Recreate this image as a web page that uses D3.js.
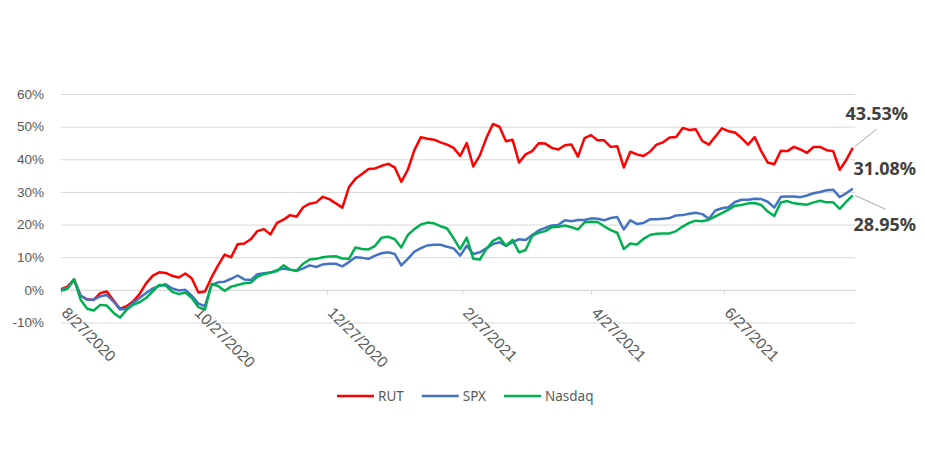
<!DOCTYPE html>
<html>
<head>
<meta charset="utf-8">
<script src="https://cdnjs.cloudflare.com/ajax/libs/d3/7.8.5/d3.min.js"></script>
<style>
    body { margin: 0; background: #fff; }
    svg { display: block; font-family: "Noto Sans", sans-serif; }
    .grid line { stroke: #d9d9d9; stroke-width: 1; }
    .grid .domain { display: none; }
    .axis-label { fill: #595959; font-size: 13.5px; }
    .x-axis text.axis-label { font-size: 15.5px; }
    .x-axis .domain, .x-axis line { stroke: #d9d9d9; }
    .series { fill: none; stroke-width: 2.5; stroke-linejoin: round; }
    .end-label { fill: #404040; font-size: 18px; font-weight: bold; }
    .leader { stroke: #a6a6a6; stroke-width: 1; }
</style>
</head>
<body>
<div id="chart"></div>
<script>
// trading dates sampled every three days
var dates = [
    "2020-08-27", "2020-08-30", "2020-09-02", "2020-09-05", "2020-09-08", "2020-09-11",
    "2020-09-14", "2020-09-17", "2020-09-20", "2020-09-23", "2020-09-26", "2020-09-29",
    "2020-10-02", "2020-10-05", "2020-10-08", "2020-10-11", "2020-10-14", "2020-10-17",
    "2020-10-20", "2020-10-23", "2020-10-26", "2020-10-29", "2020-11-01", "2020-11-04",
    "2020-11-07", "2020-11-10", "2020-11-13", "2020-11-16", "2020-11-19", "2020-11-22",
    "2020-11-25", "2020-11-28", "2020-12-01", "2020-12-04", "2020-12-07", "2020-12-10",
    "2020-12-13", "2020-12-16", "2020-12-19", "2020-12-22", "2020-12-25", "2020-12-28",
    "2020-12-31", "2021-01-03", "2021-01-06", "2021-01-09", "2021-01-12", "2021-01-15",
    "2021-01-18", "2021-01-21", "2021-01-24", "2021-01-27", "2021-01-30", "2021-02-02",
    "2021-02-05", "2021-02-08", "2021-02-11", "2021-02-14", "2021-02-17", "2021-02-20",
    "2021-02-23", "2021-02-26", "2021-03-01", "2021-03-04", "2021-03-07", "2021-03-10",
    "2021-03-13", "2021-03-16", "2021-03-19", "2021-03-22", "2021-03-25", "2021-03-28",
    "2021-03-31", "2021-04-03", "2021-04-06", "2021-04-09", "2021-04-12", "2021-04-15",
    "2021-04-18", "2021-04-21", "2021-04-24", "2021-04-27", "2021-04-30", "2021-05-03",
    "2021-05-06", "2021-05-09", "2021-05-12", "2021-05-15", "2021-05-18", "2021-05-21",
    "2021-05-24", "2021-05-27", "2021-05-30", "2021-06-02", "2021-06-05", "2021-06-08",
    "2021-06-11", "2021-06-14", "2021-06-17", "2021-06-20", "2021-06-23", "2021-06-26",
    "2021-06-29", "2021-07-02", "2021-07-05", "2021-07-08", "2021-07-11", "2021-07-14",
    "2021-07-17", "2021-07-20", "2021-07-23", "2021-07-26", "2021-07-29", "2021-08-01",
    "2021-08-04", "2021-08-07", "2021-08-10", "2021-08-13", "2021-08-16", "2021-08-19",
    "2021-08-22", "2021-08-25"
];

// cumulative return, percent
var rutValues = [
    0.2, 1.0, 3.2, -1.8, -2.9, -3.1, -1.0, -0.5, -3.2, -5.8, -5.0, -3.6,
    -1.3, 2.0, 4.3, 5.4, 5.2, 4.3, 3.8, 5.0, 3.5, -0.8, -0.5, 3.8,
    7.5, 10.8, 10.0, 14.0, 14.2, 15.5, 18.0, 18.6, 17.0, 20.5, 21.5, 22.9,
    22.4, 25.3, 26.4, 26.8, 28.5, 27.8, 26.5, 25.2, 31.5, 34.0, 35.5, 37.0,
    37.2, 38.0, 38.6, 37.5, 33.1, 36.8, 42.8, 46.8, 46.3, 46.0, 45.2, 44.5,
    43.5, 41.0, 45.0, 37.8, 41.2, 46.5, 50.8, 50.0, 45.5, 46.0, 39.0, 41.5,
    42.5, 44.9, 44.8, 43.5, 43.0, 44.3, 44.5, 40.8, 46.5, 47.4, 45.8, 45.8,
    43.8, 44.0, 37.5, 42.3, 41.5, 41.0, 42.3, 44.5, 45.2, 46.7, 46.8, 49.6,
    49.0, 49.2, 45.6, 44.5, 47.0, 49.5, 48.6, 48.2, 46.5, 44.5, 46.8, 42.5,
    39.0, 38.5, 42.6, 42.5, 43.8, 43.0, 42.0, 43.8, 43.8, 42.8, 42.5, 36.8,
    39.8, 43.53
];

var spxValues = [
    0.0, 0.6, 3.0, -1.8, -3.0, -3.0, -2.0, -1.6, -3.5, -6.0, -5.8, -4.0,
    -2.5, -1.0, 0.4, 1.2, 1.7, 0.4, -0.2, 0.0, -1.8, -4.2, -5.0, 1.5,
    2.3, 2.5, 3.4, 4.4, 3.2, 3.0, 4.8, 5.1, 5.3, 6.0, 6.5, 6.2,
    5.8, 6.6, 7.5, 7.0, 7.8, 8.0, 8.0, 7.2, 8.5, 10.0, 9.8, 9.5,
    10.5, 11.2, 11.5, 11.0, 7.5, 9.5, 11.7, 12.8, 13.6, 13.8, 13.8, 13.2,
    12.7, 10.5, 13.5, 11.0, 11.5, 12.7, 14.0, 14.6, 13.5, 14.6, 15.5, 15.3,
    16.8, 18.2, 19.0, 19.7, 19.9, 21.3, 21.0, 21.4, 21.4, 21.9, 21.8, 21.3,
    22.0, 22.3, 18.5, 21.3, 20.2, 20.5, 21.6, 21.6, 21.8, 22.0, 22.8, 22.9,
    23.3, 23.6, 23.2, 21.8, 24.3, 25.0, 25.3, 26.9, 27.6, 27.6, 27.9, 27.8,
    27.0, 25.2, 28.5, 28.6, 28.6, 28.4, 28.9, 29.6, 30.0, 30.5, 30.7, 28.4,
    29.6, 31.08
];

var nasdaqValues = [
    -0.3, 0.4, 3.2, -3.0, -5.8, -6.3, -4.6, -4.8, -7.0, -8.5, -6.2, -4.6,
    -3.8, -2.5, -0.5, 1.5, 1.3, -0.6, -1.3, -0.8, -2.5, -5.3, -6.0, 1.8,
    1.2, -0.3, 1.0, 1.5, 2.0, 2.2, 4.0, 4.8, 5.3, 5.8, 7.5, 6.2,
    5.9, 8.0, 9.3, 9.5, 10.0, 10.2, 10.3, 9.6, 9.5, 13.0, 12.5, 12.4,
    13.5, 16.0, 16.3, 15.5, 13.0, 16.8, 18.6, 20.0, 20.6, 20.4, 19.5, 18.8,
    15.8, 12.5, 16.0, 9.5, 9.3, 12.5, 15.0, 16.0, 13.5, 15.3, 11.5, 12.2,
    16.5, 17.5, 18.0, 19.2, 19.3, 19.7, 19.2, 18.5, 20.7, 20.9, 20.8, 19.5,
    18.3, 17.5, 12.5, 14.2, 13.9, 15.6, 16.8, 17.2, 17.3, 17.3, 18.0, 19.4,
    20.5, 21.2, 21.0, 21.5, 22.5, 23.5, 24.6, 25.8, 26.0, 26.5, 26.6, 26.0,
    24.0, 22.6, 26.8, 27.2, 26.5, 26.3, 26.1, 26.8, 27.3, 26.8, 26.8, 24.8,
    27.0, 28.95
];

var seriesNames = ["RUT", "SPX", "Nasdaq"];
var seriesColors = ["#ff0000", "#4472c4", "#00b050"];

var yTicks = [-10, 0, 10, 20, 30, 40, 50, 60];
var xTickDates = ["2020-08-27", "2020-10-27", "2020-12-27", "2021-02-27", "2021-04-27", "2021-06-27"];
var xDomain = ["2020-08-27", "2021-08-26"];

/**** SETUP ****/

var WIDTH = 925;
var HEIGHT = 450;
var PLOT = { left: 61, right: 855, top: 94, bottom: 322.5 };

var parseDate = d3.timeParse("%Y-%m-%d");

var svg = d3.select("#chart")
    .append("svg")
    .attr("width", WIDTH)
    .attr("height", HEIGHT);

var xScale = d3.scaleTime()
    .domain(xDomain.map(parseDate))
    .range([PLOT.left, PLOT.right]);

var yScale = d3.scaleLinear()
    .domain([-10, 60])
    .range([PLOT.bottom, PLOT.top]);

/**** GRID + AXES ****/

var grid = svg.append("g")
    .attr("class", "grid")
    .attr("transform", "translate(" + PLOT.left + ",0)")
    .call(d3.axisLeft(yScale)
        .tickValues(yTicks)
        .tickSize(-(PLOT.right - PLOT.left))
        .tickPadding(17)
        .tickFormat(function(d) { return d + "%"; }));

grid.selectAll("text")
    .attr("class", "axis-label")
    .attr("font-family", null)
    .attr("font-size", null);

var y0 = yScale(0);
var xAxis = svg.append("g")
    .attr("class", "x-axis")
    .attr("transform", "translate(0," + y0 + ")")
    .call(d3.axisBottom(xScale)
        .tickValues(xTickDates.map(parseDate))
        .tickSize(5)
        .tickSizeOuter(0)
        .tickFormat(d3.timeFormat("%-m/%-d/%Y")));

// labels hang diagonally below the zero line
xAxis.selectAll("text")
    .attr("class", "axis-label")
    .attr("font-family", null)
    .attr("font-size", null)
    .attr("x", 0)
    .attr("y", 0)
    .attr("dy", "0.35em")
    .style("text-anchor", "start")
    .attr("transform", "translate(3," + (310 - y0) + ") rotate(45)");

/**** LINES ****/

var seriesValues = [rutValues, spxValues, nasdaqValues];

var line = d3.line()
    .x(function(d) { return xScale(d.date); })
    .y(function(d) { return yScale(d.value); });

var series = seriesValues.map(function(values, i) {
    return {
        name: seriesNames[i],
        color: seriesColors[i],
        points: values.map(function(v, j) {
            return { date: parseDate(dates[j]), value: v };
        })
    };
});

svg.append("g")
    .selectAll("path")
    .data(series)
    .enter()
    .append("path")
    .attr("class", "series")
    .attr("stroke", function(s) { return s.color; })
    .attr("d", function(s) { return line(s.points); });

/**** END LABELS ****/

// offsets of each label from its line's last point
var labelOffsets = [
    { dx: 24, dy: -28, leader: [2, -1, 24, -19] },
    { dx: 32, dy: -13, leader: null },
    { dx: 32, dy: 36, leader: [2, 0, 33, 14] }
];

series.forEach(function(s, i) {
    var last = s.points[s.points.length - 1];
    var ex = xScale(last.date);
    var ey = yScale(last.value);
    var off = labelOffsets[i];

    if (off.leader) {
        svg.append("line")
            .attr("class", "leader")
            .attr("x1", ex + off.leader[0])
            .attr("y1", ey + off.leader[1])
            .attr("x2", ex + off.leader[2])
            .attr("y2", ey + off.leader[3]);
    }

    svg.append("text")
        .attr("class", "end-label")
        .attr("text-anchor", "middle")
        .attr("x", ex + off.dx)
        .attr("y", ey + off.dy)
        .text(d3.format(".2f")(last.value) + "%");
});

/**** LEGEND ****/

var legend = svg.append("g").attr("transform", "translate(337,396)");
var cursor = 0;
series.forEach(function(s) {
    var item = legend.append("g").attr("transform", "translate(" + cursor + ",0)");
    item.append("line")
        .attr("x1", 0)
        .attr("x2", 37)
        .attr("stroke", s.color)
        .attr("stroke-width", 2.5);
    var label = item.append("text")
        .attr("class", "axis-label")
        .attr("x", 41)
        .attr("dy", "0.35em")
        .text(s.name);
    cursor += 41 + label.node().getComputedTextLength() + 18;
});
</script>
</body>
</html>
